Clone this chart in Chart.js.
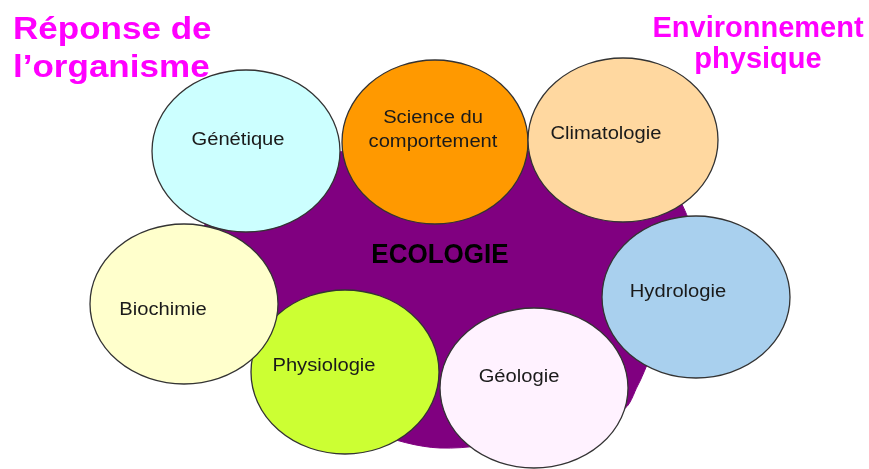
<!DOCTYPE html>
<html lang="fr">
<head>
<meta charset="utf-8">
<title>Écologie</title>
<script src="https://cdn.jsdelivr.net/npm/chart.js@4.4.1/dist/chart.umd.min.js"></script>
<style>
  html, body { margin: 0; padding: 0; background: #ffffff; }
  #schema { display: block; }
</style>
</head>
<body>
<canvas id="schema" width="869" height="469"></canvas>
<script>
// Données du schéma (unités de l'axe = celles de l'image)
const disciplines = ['Génétique', 'Science du\ncomportement', 'Climatologie', 'Hydrologie', 'Géologie', 'Physiologie', 'Biochimie'];
const centresX = [246, 435, 623, 696, 534, 345, 184];
const centresY = [151, 142, 140, 297, 388, 372, 304];
const rayonsX = [94, 93, 95, 94, 94, 94, 94];
const rayonsY = [81, 82, 82, 81, 80, 82, 80];
const etiquettesX = [238, 433, 606, 678, 519, 324, 163];
const etiquettesY = [145, 123, 139, 297, 382, 371, 315];
const couleurs = ['#CCFFFF', '#FF9900', '#FFD8A0', '#A9D0EE', '#FFF2FF', '#CCFF33', '#FFFFCC'];

// Contour de la zone centrale "ECOLOGIE"
const contourX = [200, 236, 440, 648, 688, 700, 655, 638, 622, 440, 300, 262, 210, 200];
const contourY = [236, 168, 150, 166, 218, 300, 350, 385, 410, 448, 398, 345, 290, 236];

// Titres des deux pôles
const titreGauche = ['Réponse de', 'l\u2019organisme'];
const titreDroite = ['Environnement', 'physique'];

// Dessine un texte étiré horizontalement
function texteEtire(ctx, texte, x, y, police, etirement, align) {
    ctx.save();
    ctx.font = police;
    ctx.translate(x, y);
    ctx.scale(etirement, 1);
    ctx.textAlign = align || 'center';
    ctx.textBaseline = 'alphabetic';
    ctx.fillText(texte, 0, 0);
    ctx.restore();
}

// Plugin : ellipses et textes placés avec les échelles de Chart.js
const pluginEllipses = {
    id: 'ellipses',
    afterDatasetsDraw(chart) {
        const ctx = chart.ctx;
        const sx = chart.scales.x;
        const sy = chart.scales.y;
        const px = v => sx.getPixelForValue(v);
        const py = v => sy.getPixelForValue(v);

        // ellipses des disciplines
        const pts = chart.getDatasetMeta(1).data;
        pts.forEach(function(pt, i) {
            const rx = Math.abs(px(centresX[i] + rayonsX[i]) - px(centresX[i]));
            const ry = Math.abs(py(centresY[i] + rayonsY[i]) - py(centresY[i]));
            ctx.save();
            ctx.beginPath();
            ctx.ellipse(pt.x, pt.y, rx, ry, 0, 0, Math.PI * 2);
            ctx.fillStyle = couleurs[i];
            ctx.fill();
            ctx.lineWidth = 1.3;
            ctx.strokeStyle = '#333333';
            ctx.stroke();
            ctx.restore();
        });

        // étiquettes
        ctx.fillStyle = '#1a1a1a';
        disciplines.forEach(function(nom, i) {
            const lignes = nom.split('\n');
            lignes.forEach(function(l, k) {
                texteEtire(ctx, l, px(etiquettesX[i]), py(etiquettesY[i] + k * 24),
                    '18px "Liberation Sans", Arial, sans-serif', 1.12);
            });
        });

        ctx.fillStyle = '#000000';
        texteEtire(ctx, 'ECOLOGIE', px(440), py(263), 'bold 28px "Liberation Sans", Arial, sans-serif', 0.93);

        // titres
        ctx.fillStyle = '#FF00FF';
        texteEtire(ctx, titreGauche[0], px(13), py(39), 'bold 31px "Liberation Sans", Arial, sans-serif', 1.13, 'left');
        texteEtire(ctx, titreGauche[1], px(13), py(77), 'bold 31px "Liberation Sans", Arial, sans-serif', 1.13, 'left');
        texteEtire(ctx, titreDroite[0], px(758), py(37), 'bold 29px "Liberation Sans", Arial, sans-serif', 1.0);
        texteEtire(ctx, titreDroite[1], px(758), py(68), 'bold 29px "Liberation Sans", Arial, sans-serif', 1.0);
    }
};

const contour = contourX.map(function(x, i) {
    return { x: x, y: contourY[i] };
});
const points = centresX.map(function(x, i) {
    return { x: x, y: centresY[i] };
});

new Chart(document.getElementById('schema'), {
    type: 'scatter',
    data: {
        datasets: [{
            label: 'ECOLOGIE',
            data: contour,
            showLine: true,
            fill: 'shape',
            tension: 0.3,
            backgroundColor: '#800080',
            borderColor: '#800080',
            borderWidth: 1,
            pointRadius: 0,
            pointHoverRadius: 0
        }, {
            label: 'Disciplines',
            data: points,
            pointRadius: 0,
            pointHoverRadius: 0
        }]
    },
    options: {
        responsive: false,
        animation: false,
        layout: { padding: 0 },
        plugins: {
            legend: { display: false },
            tooltip: { enabled: false }
        },
        scales: {
            x: { type: 'linear', min: 0, max: 869, display: false },
            y: { type: 'linear', min: 0, max: 469, reverse: true, display: false }
        }
    },
    plugins: [pluginEllipses]
});
</script>
</body>
</html>
